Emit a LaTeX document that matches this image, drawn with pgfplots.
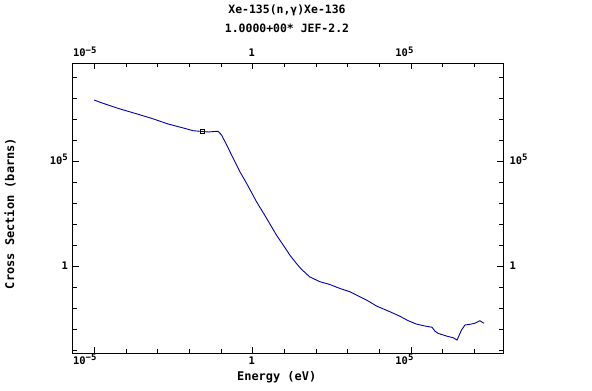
\documentclass[border=0pt]{standalone}
\usepackage{fontspec}
\setmainfont{DejaVu Sans Mono}
\usepackage{pgfplots}
\pgfplotsset{compat=1.18}
\definecolor{curve}{RGB}{0,0,180}
\newcommand{\sups}[1]{\raisebox{0.38em}{\fontsize{9}{9}\selectfont #1}}
\pgfplotsset{
  myaxisbase/.style={
    at={(73bp,36.7bp)}, anchor=south west,
    scale only axis, width=430bp, height=290bp,
    xmin=2.14e-6, xmax=7.94e7,
    ymin=7.24e-5, ymax=4.68e9,
    xtick={1e-5,1,1e5}, ytick={1,1e5},
    xticklabels={10\sups{−5},1,10\sups{5}},
    yticklabels={1,10\sups{5}},
    minor xtick={1e-5,1e-4,1e-3,1e-2,1e-1,1,10,100,1e3,1e4,1e5,1e6,1e7},
    minor ytick={1e-4,1e-3,1e-2,1e-1,1,10,100,1e3,1e4,1e5,1e6,1e7,1e8,1e9},
    major tick length=6bp, minor tick length=4bp,
    tick style={black, line width=0.8bp},
    axis line style={black, line width=1bp},
    tick align=inside,
    ticklabel style={font=\fontsize{10.5}{11}\selectfont\bfseries, inner sep=0pt},
    axis on top,
  }
}
\begin{document}
\begin{tikzpicture}[x=1bp,y=1bp]
\useasboundingbox (0,0) rectangle (592,390);
\begin{loglogaxis}[myaxisbase,
  xticklabel pos=lower, yticklabel pos=left,
  xticklabel style={anchor=base east, yshift=-11bp, xshift=2.5bp},
  yticklabel style={anchor=base east, xshift=-5bp, yshift=-3bp},
]
\addplot[curve, line width=0.9bp] coordinates {
(1e-5,8.32e7) (1.70e-5,6.17e7) (5.75e-5,3.31e7) (1.91e-4,1.95e7)
(6.46e-4,1.12e7) (2.14e-3,6.03e6) (7.24e-3,3.72e6) (1.32e-2,2.88e6)
(2.34e-2,2.69e6) (3.98e-2,2.51e6) (7.24e-2,2.69e6) (8.13e-2,2.69e6)
(0.105,1.78e6) (0.151,6.03e5) (0.245,1.38e5) (0.398,3.16e4)
(0.646,8.91e3) (1.32,1.20e3) (2.75,195) (5.62,30.9) (11.7,6.03)
(14.8,3.47) (24.0,1.38) (34.7,0.724) (63.1,0.316) (132,0.186)
(269,0.138) (562,0.0891) (1175,0.0617) (1905,0.0427) (3890,0.0251)
(8130,0.0129) (2.14e4,6.92e-3) (4.37e4,4.27e-3) (8.13e4,2.57e-3)
(1.48e5,1.78e-3) (2.69e5,1.45e-3) (4.57e5,1.26e-3) (5.62e5,8.32e-4)
(7.08e5,6.46e-4) (1.32e6,4.79e-4) (2.14e6,3.98e-4) (2.82e6,3.09e-4)
(3.31e6,5.37e-4) (3.89e6,9.33e-4) (5.01e6,1.62e-3) (7.24e6,1.74e-3)
(1.02e7,1.95e-3) (1.48e7,2.57e-3) (2.00e7,1.95e-3)
};
\addplot[only marks, mark=square, mark size=1.7bp, mark options={black, line width=0.5bp, fill=white}] coordinates {(0.0253,2.69e6)};
\end{loglogaxis}
\begin{loglogaxis}[myaxisbase,
  xticklabel pos=upper, yticklabel pos=right,
  xticklabel style={anchor=base east, yshift=6.3bp, xshift=2.5bp},
  yticklabel style={anchor=base west, xshift=6.3bp, yshift=-3bp},
]
\addplot[draw=none, forget plot] coordinates {(1,1)};
\end{loglogaxis}
\node[font=\fontsize{11.5}{12}\selectfont\bfseries] at (287,380) {Xe-135(n,γ)Xe-136};
\node[font=\fontsize{11.5}{12}\selectfont\bfseries] at (287,361.3) {1.0000+00* JEF-2.2};
\node[font=\fontsize{12}{13}\selectfont\bfseries, anchor=base] at (276.7,10) {Energy (eV)};
\node[font=\fontsize{12}{13}\selectfont\bfseries, rotate=90] at (10,176.5) {Cross Section (barns)};
\end{tikzpicture}
\end{document}
